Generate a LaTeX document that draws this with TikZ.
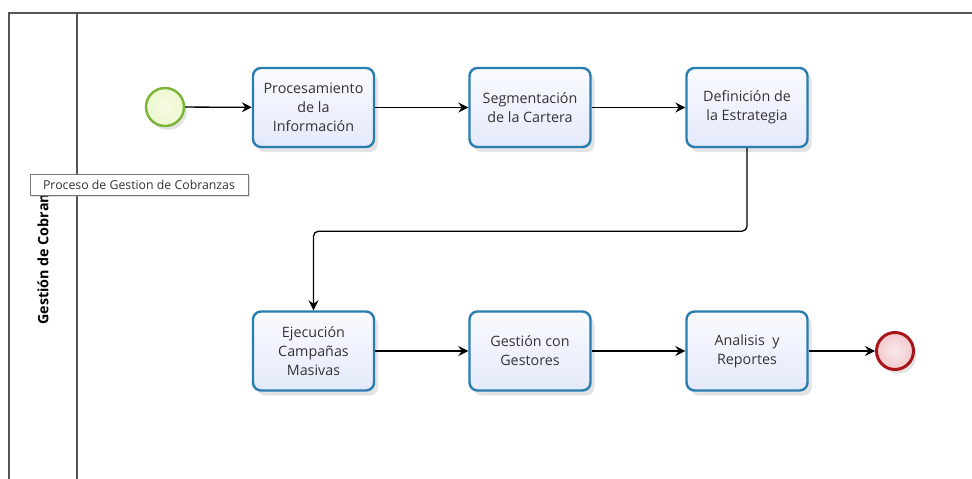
\documentclass[tikz,border=0pt]{standalone}
\usepackage{fontspec}
\setmainfont{Open Sans}
\usetikzlibrary{arrows.meta,shadows,positioning}
\definecolor{boxline}{HTML}{2A7DB0}
\definecolor{boxtop}{HTML}{FAFBFF}
\definecolor{boxbot}{HTML}{E4E9FA}
\definecolor{startline}{HTML}{7AB536}
\definecolor{startfill}{HTML}{EEF8D0}
\definecolor{endline}{HTML}{A8161C}
\definecolor{endfill}{HTML}{F1C9CD}
\definecolor{frame}{HTML}{555555}
\definecolor{txt}{HTML}{333333}
\tikzset{
  task/.style={draw=boxline, line width=2.4pt, rounded corners=8pt,
    top color=boxtop, bottom color=boxbot,
    minimum width=121pt, minimum height=79pt, align=center,
    text=txt, font=\fontsize{14.3}{19}\selectfont,
    drop shadow={opacity=0.22, shadow xshift=4pt, shadow yshift=-5pt}},
  startev/.style={circle, draw=startline, line width=2.4pt,
    inner color=startfill!60!white, outer color=startfill,
    minimum size=38pt, inner sep=0pt,
    drop shadow={opacity=0.22, shadow xshift=3pt, shadow yshift=-4pt}},
  endev/.style={circle, draw=endline, line width=3pt,
    inner color=endfill!40!white, outer color=endfill,
    minimum size=37pt, inner sep=0pt,
    drop shadow={opacity=0.22, shadow xshift=3pt, shadow yshift=-4pt}},
  flow/.style={line width=1.3pt, black, -{Stealth[length=10pt,width=10pt,inset=3.5pt]}},
  frameline/.style={draw=frame, line width=1.5pt},
  tooltip/.style={draw=frame!80, fill=white, line width=0.8pt,
    text=txt, font=\fontsize{12.3}{14}\selectfont,
    minimum width=218pt, minimum height=21pt, inner sep=2pt,
    drop shadow={opacity=0.25, shadow xshift=2pt, shadow yshift=-2pt}},
  lanelabel/.style={rotate=90, font=\bfseries\fontsize{14.3}{16}\selectfont, text=black, inner sep=0pt}
}
\begin{document}
\begin{tikzpicture}[x=1pt,y=-1pt]
\useasboundingbox (0,0) rectangle (972,479);
\fill[white] (0,0) rectangle (972,479);
% frame
\draw[frameline] (9,479) -- (9,13) -- (972,13);
\draw[frameline] (77,13) -- (77,479);
% lane label (partly hidden by the tooltip)
\node[lanelabel, anchor=west] (lane) at (43,325) {Gestión de Cobran};
% events and tasks
\node[startev] (start) at (165,107) {};
\node[task] (b1) at (313.5,107.5) {Procesamiento\\de la\\Información};
\node[task] (b2) at (530,107.5) {Segmentación\\de la Cartera};
\node[task] (b3) at (747,107.5) {Definición de\\la Estrategia};
\node[task] (b4) at (313.5,351) {Ejecución\\Campañas\\Masivas};
\node[task] (b5) at (530,351) {Gestión con\\Gestores};
\node[task] (b6) at (747,351) {Analisis\ \ y\\Reportes};
\node[endev] (end) at (895,351) {};
% flows
\draw[flow] (start) -- (b1);
\draw[flow] (b1) -- (b2);
\draw[flow] (b2) -- (b3);
\draw[flow, rounded corners=5pt] (b3.south) -- ++(0,83) -| (b4.north);
\draw[flow] (b4) -- (b5);
\draw[flow] (b5) -- (b6);
\draw[flow] (b6) -- (end);
% tooltip
\node[tooltip] (tip) at (139,184.5) {Proceso de Gestion de Cobranzas};
\end{tikzpicture}
\end{document}
